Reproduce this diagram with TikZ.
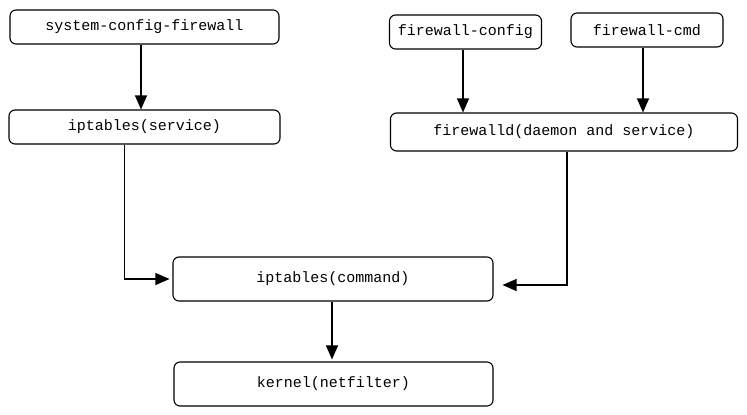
\documentclass[tikz,border=0pt]{standalone}
\usepackage{fontspec}
\setmonofont{Liberation Mono}
\usetikzlibrary{arrows.meta}
\begin{document}
\begin{tikzpicture}[x=1pt,y=-1pt,
  box/.style={draw=black, line width=1.1pt, rounded corners=6pt, inner sep=0pt,
    font=\ttfamily\fontsize{15}{18}\selectfont, text=black},
  link/.style={draw=black, line width=1.1pt,
    -{Triangle[length=14pt,width=12pt]}}]
  \useasboundingbox (0,0) rectangle (747,415);

  % configuration tools
  \node[box, minimum width=269pt, minimum height=34pt] (scf) at (144.5,27) {system-config-firewall};
  \node[box, minimum width=152pt, minimum height=34pt] (fwcfg) at (465.5,32) {firewall-config};
  \node[box, minimum width=152pt, minimum height=34pt] (fwcmd) at (647,30) {firewall-cmd};

  % services
  \node[box, minimum width=271pt, minimum height=34pt] (svc) at (144.5,127) {iptables(service)};
  \node[box, minimum width=347pt, minimum height=38pt] (fwd) at (564,132) {firewalld(daemon and service)};

  % command and kernel
  \node[box, minimum width=320pt, minimum height=44pt] (ipt) at (333,279) {iptables(command)};
  \node[box, minimum width=319pt, minimum height=44pt] (kern) at (333.5,384) {kernel(netfilter)};

  % connectors
  \draw[link] ([xshift=-3.5pt]scf.south) -- ([xshift=-3.5pt]scf.south |- svc.north);
  \draw[link] ([xshift=-2.5pt]fwcfg.south) -- ([xshift=-2.5pt]fwcfg.south |- fwd.north);
  \draw[link] ([xshift=-4pt]fwcmd.south) -- ([xshift=-4pt]fwcmd.south |- fwd.north);
  \draw[link] ([xshift=-20pt]svc.south) |- ([xshift=-3pt]ipt.west);
  \draw[link] ([xshift=3pt]fwd.south) |- ([xshift=9pt,yshift=-6pt]ipt.east);
  \draw[link] ([xshift=-1pt]ipt.south) -- ([xshift=-1pt,yshift=2pt]ipt.south |- kern.north);
\end{tikzpicture}
\end{document}
